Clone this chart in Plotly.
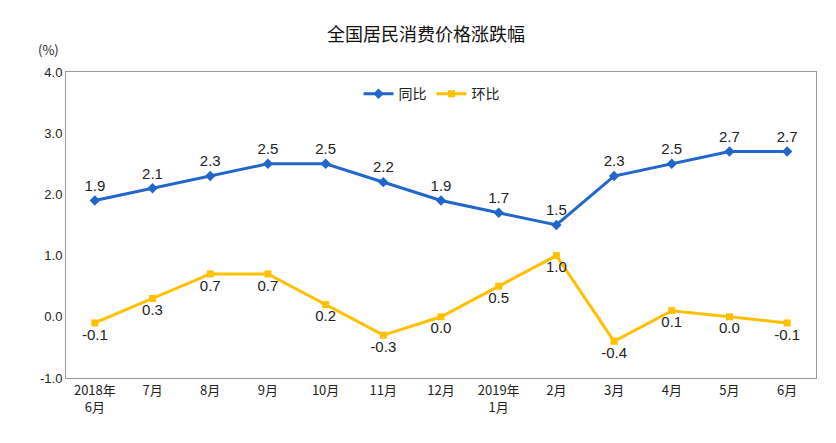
import plotly.graph_objects as go

# data
months = ["2018年<br>6月", "7月", "8月", "9月", "10月", "11月", "12月",
          "2019年<br>1月", "2月", "3月", "4月", "5月", "6月"]
yoy = [1.9, 2.1, 2.3, 2.5, 2.5, 2.2, 1.9, 1.7, 1.5, 2.3, 2.5, 2.7, 2.7]
mom = [-0.1, 0.3, 0.7, 0.7, 0.2, -0.3, 0.0, 0.5, 1.0, -0.4, 0.1, 0.0, -0.1]
y_ticks = [-1.0, 0.0, 1.0, 2.0, 3.0, 4.0]

blue = "#2266CC"
yellow = "#FFC000"
num_font = dict(family="Liberation Sans, Arial", size=15, color="#222")

fig = go.Figure()
fig.add_trace(go.Scatter(
    x=months, y=yoy, name="同比", mode="lines+markers+text",
    line=dict(color=blue, width=3), marker=dict(symbol="diamond", size=8),
    text=[f"{v:.1f}" for v in yoy], textposition="top center",
    textfont=num_font, cliponaxis=False))
fig.add_trace(go.Scatter(
    x=months, y=mom, name="环比", mode="lines+markers+text",
    line=dict(color=yellow, width=3), marker=dict(symbol="square", size=7),
    text=[f"{v:.1f}" for v in mom], textposition="bottom center",
    textfont=num_font, cliponaxis=False))

fig.update_layout(
    width=836, height=443, plot_bgcolor="white", paper_bgcolor="white",
    margin=dict(l=58, r=28, t=64, b=73, autoexpand=False),
    title=dict(text="全国居民消费价格涨跌幅", x=0.5, y=0.955, xanchor="center",
               font=dict(family="Noto Sans CJK SC", size=18, color="#111")),
    font=dict(family="Noto Sans CJK SC", size=13, color="#222"),
    legend=dict(orientation="h", x=0.39, y=0.98, xanchor="left",
                font=dict(family="Noto Sans CJK SC", size=14)),
    xaxis=dict(showline=True, mirror=True, linecolor="#999", ticks="",
               showgrid=False, range=[-0.5, 12.5]),
    yaxis=dict(showline=True, mirror=True, linecolor="#999", showgrid=False,
               zeroline=False, range=[-1.0, 4.0], tickvals=y_ticks,
               ticktext=[f"{v:.1f}" for v in y_ticks],
               tickfont=dict(family="Liberation Sans, Arial", size=13)),
    annotations=[dict(text="(%)", xref="paper", yref="paper", x=-0.04, y=1.11,
                      showarrow=False, font=dict(size=13))],
)
fig.write_html("out.html")
